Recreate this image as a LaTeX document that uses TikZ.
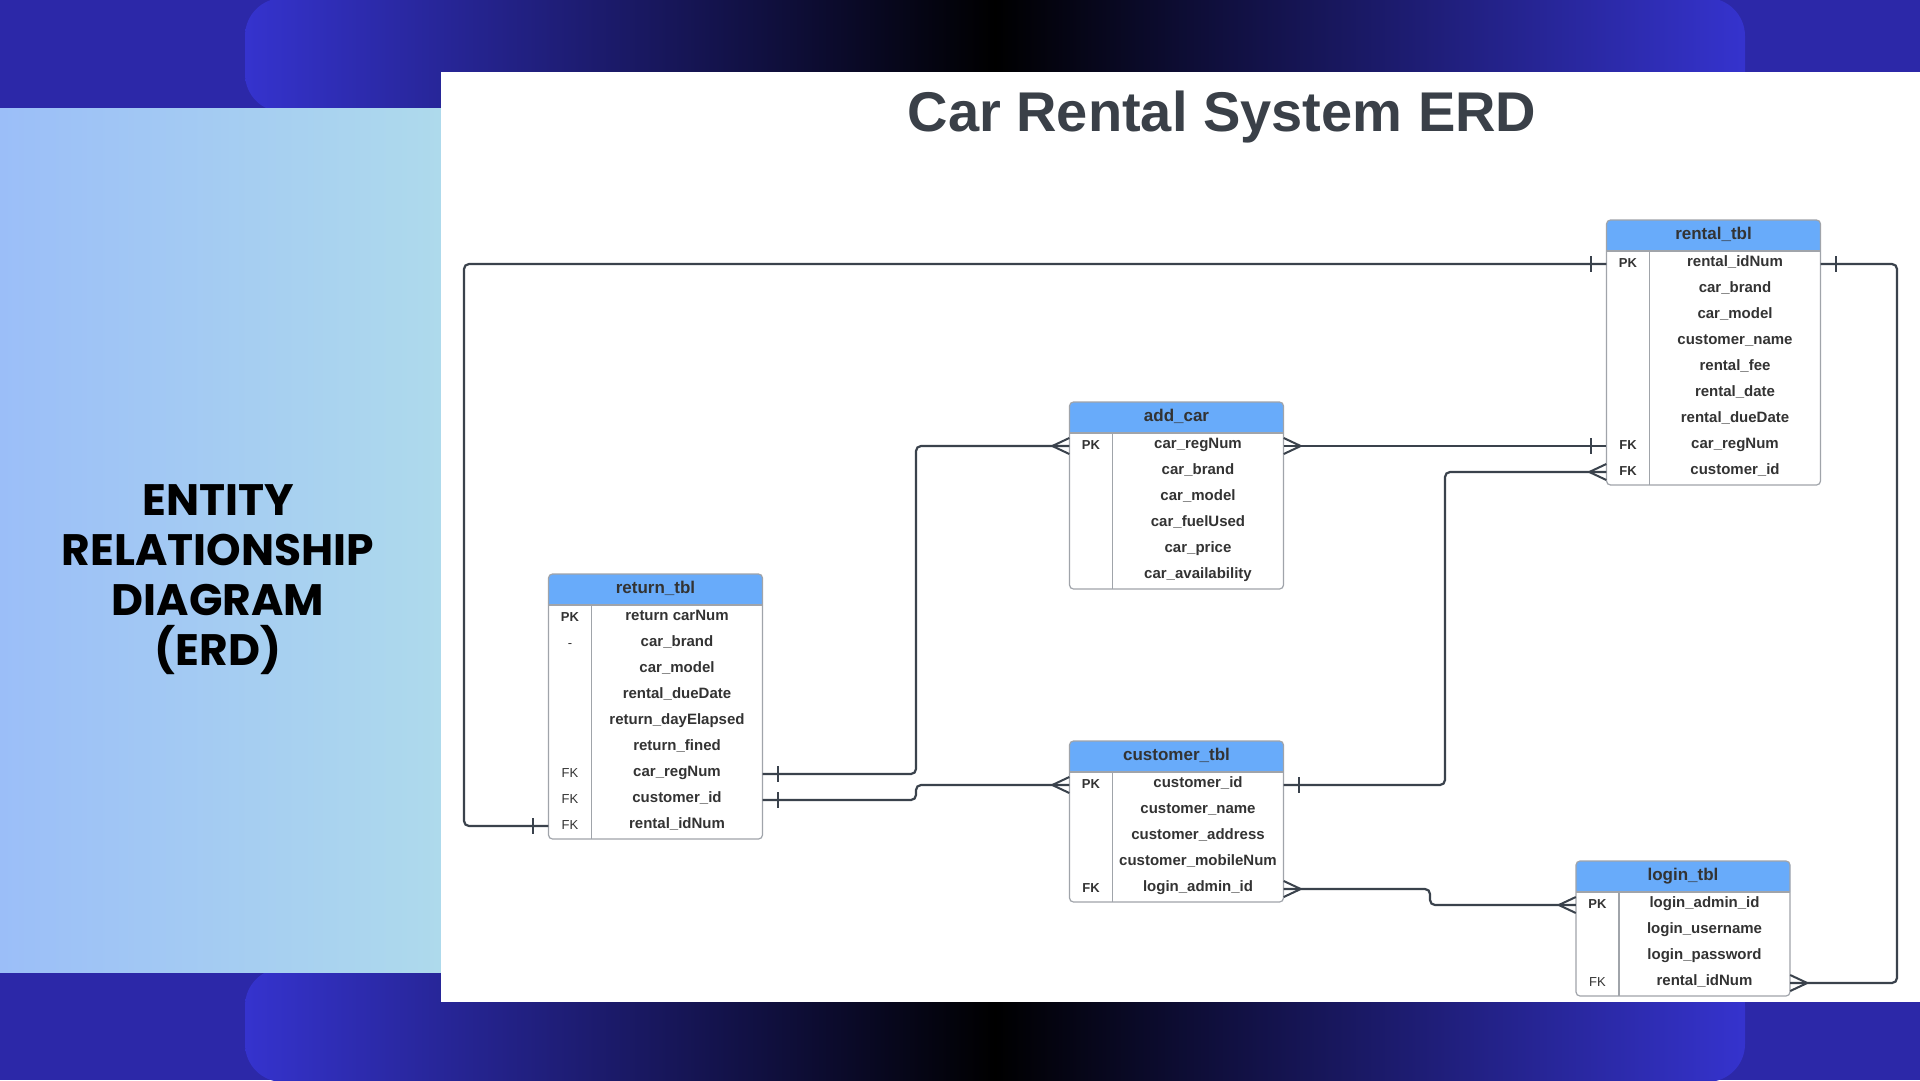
\documentclass[tikz,border=0pt]{standalone}
\usepackage{fontspec}
\setmainfont{Liberation Sans}
\newfontfamily\poppins{Poppins}
\usepackage{xcolor}
\usetikzlibrary{calc}

\definecolor{bandblue}{RGB}{44,40,168}
\definecolor{pillblue}{RGB}{53,51,206}
\definecolor{paleleft}{RGB}{155,190,248}
\definecolor{paleright}{RGB}{174,218,236}
\definecolor{hdrblue}{RGB}{104,171,250}
\definecolor{tblgrey}{RGB}{160,164,170}
\definecolor{inkdark}{RGB}{51,51,51}
\definecolor{relline}{RGB}{58,66,76}
\definecolor{titlegrey}{RGB}{58,64,72}

\tikzset{
  hdrtext/.style={font=\fontsize{17}{20}\selectfont\bfseries, text=inkdark, inner sep=0pt, anchor=base},
  keytext/.style={font=\fontsize{13}{16}\selectfont\bfseries, text=inkdark, inner sep=0pt, anchor=base},
  attrtext/.style={font=\fontsize{15}{18}\selectfont\bfseries, text=inkdark, inner sep=0pt, anchor=base},
  rowslot/.style={minimum width=214pt, minimum height=26pt, inner sep=0pt},
  tblframe/.style={draw=tblgrey, line width=1.2pt},
  rel/.style={draw=relline, line width=2.2pt, rounded corners=5pt},
  relmark/.style={draw=relline, line width=2pt}
}

% table: name, left, top, title, number of rows, rows (key/attribute)
\newcommand{\erdtable}[6]{%
  \fill[white, rounded corners=4pt] (#2,#3) rectangle (#2+214,#3+31+#5*26);
  \fill[hdrblue] (#2,#3+31) [rounded corners=4pt] -- (#2,#3) -- (#2+214,#3) [sharp corners] -- (#2+214,#3+31) -- cycle;
  \node[hdrtext] (#1) at (#2+107,#3+19) {#4};
  \foreach \k/\a [count=\i] in {#6} {
    \node[rowslot] (#1-\i) at (#2+107,#3+18+\i*26) {};
    \node[keytext] at (#2+21.5,#3+21+\i*26) {\k};
    \node[attrtext] at (#2+128.5,#3+20.5+\i*26) {\a};
  }
  \draw[tblframe] (#2,#3+31) -- (#2+214,#3+31);
  \draw[tblframe] (#2+43,#3+31) -- (#2+43,#3+31+#5*26);
  \draw[tblframe, rounded corners=4pt] (#2,#3) rectangle (#2+214,#3+31+#5*26);
}

% cardinality marks: anchor, side (-1 left, 1 right)
\newcommand{\onebar}[2]{\draw[relmark] ($(#1)+(#2*15,-8)$) -- ($(#1)+(#2*15,8)$);}
\newcommand{\crowfoot}[2]{\draw[relmark] ($(#1)+(0,-8)$) -- ($(#1)+(#2*17,0)$) -- ($(#1)+(0,8)$);}

\begin{document}
\begin{tikzpicture}[x=1pt, y=-1pt]
    \useasboundingbox (0,0) rectangle (1920,1080);

    % background
    \fill[bandblue] (0,0) rectangle (1920,1080);
    \shade[left color=pillblue, right color=pillblue, middle color=black, rounded corners=38pt] (245,-2) rectangle (1745,112);
    \shade[left color=pillblue, right color=pillblue, middle color=black, rounded corners=38pt] (245,968) rectangle (1745,1082);
    \shade[left color=paleleft, right color=paleright] (0,108) rectangle (441,972);
    \fill[white] (441,72) rectangle (1920,1002);

    \node[anchor=base, font=\fontsize{56}{67}\selectfont\bfseries, text=titlegrey, inner sep=0pt] (title) at (1222,131) {Car Rental System ERD};
    \node[align=center, font=\poppins\bfseries\fontsize{44}{50}\selectfont, inner sep=0pt] (sidelabel) at (218,580) {ENTITY\\RELATIONSHIP\\DIAGRAM\\(ERD)};

    % tables
    \erdtable{rental}{1606.5}{220}{rental\_tbl}{9}{PK/rental\_idNum, /car\_brand, /car\_model, /customer\_name, /rental\_fee, /rental\_date, /rental\_dueDate, FK/car\_regNum, FK/customer\_id}
    \erdtable{addcar}{1069.5}{402}{add\_car}{6}{PK/car\_regNum, /car\_brand, /car\_model, /car\_fuelUsed, /car\_price, /car\_availability}
    \erdtable{return}{548.5}{574}{return\_tbl}{9}{PK/return carNum, \textmd{-}/car\_brand, /car\_model, /rental\_dueDate, /return\_dayElapsed, /return\_fined, \textmd{FK}/car\_regNum, \textmd{FK}/customer\_id, \textmd{FK}/rental\_idNum}
    \erdtable{customer}{1069.5}{741}{customer\_tbl}{5}{PK/customer\_id, /customer\_name, /customer\_address, /customer\_mobileNum, FK/login\_admin\_id}
    \erdtable{login}{1576}{861}{login\_tbl}{4}{PK/login\_admin\_id, /login\_username, /login\_password, \textmd{FK}/rental\_idNum}

    % lanes
    \coordinate (westlane) at (464,0);
    \coordinate (eastlane) at (1897,0);
    \coordinate (carlane) at (916,0);
    \coordinate (custlane) at (1445,0);
    \coordinate (loginjog) at (1430,0);

    % relationships
    \draw[rel] (rental-1.west) -- (rental-1.west -| westlane) -- (return-9.west -| westlane) -- (return-9.west);
    \onebar{rental-1.west}{-1}
    \onebar{return-9.west}{-1}

    \draw[rel] (rental-1.east) -- (rental-1.east -| eastlane) -- (login-4.east -| eastlane) -- (login-4.east);
    \onebar{rental-1.east}{1}
    \crowfoot{login-4.east}{1}

    \draw[rel] (addcar-1.west) -- (addcar-1.west -| carlane) -- (return-7.east -| carlane) -- (return-7.east);
    \crowfoot{addcar-1.west}{-1}
    \onebar{return-7.east}{1}

    \draw[rel] (return-8.east) -- (return-8.east -| carlane) -- (customer-1.west -| carlane) -- (customer-1.west);
    \onebar{return-8.east}{1}
    \crowfoot{customer-1.west}{-1}

    \draw[rel] (addcar-1.east) -- (rental-8.west);
    \crowfoot{addcar-1.east}{1}
    \onebar{rental-8.west}{-1}

    \draw[rel] (customer-1.east) -- (customer-1.east -| custlane) -- (rental-9.west -| custlane) -- (rental-9.west);
    \onebar{customer-1.east}{1}
    \crowfoot{rental-9.west}{-1}

    \draw[rel] (customer-5.east) -- (customer-5.east -| loginjog) -- (login-1.west -| loginjog) -- (login-1.west);
    \crowfoot{customer-5.east}{1}
    \crowfoot{login-1.west}{-1}
\end{tikzpicture}
\end{document}
